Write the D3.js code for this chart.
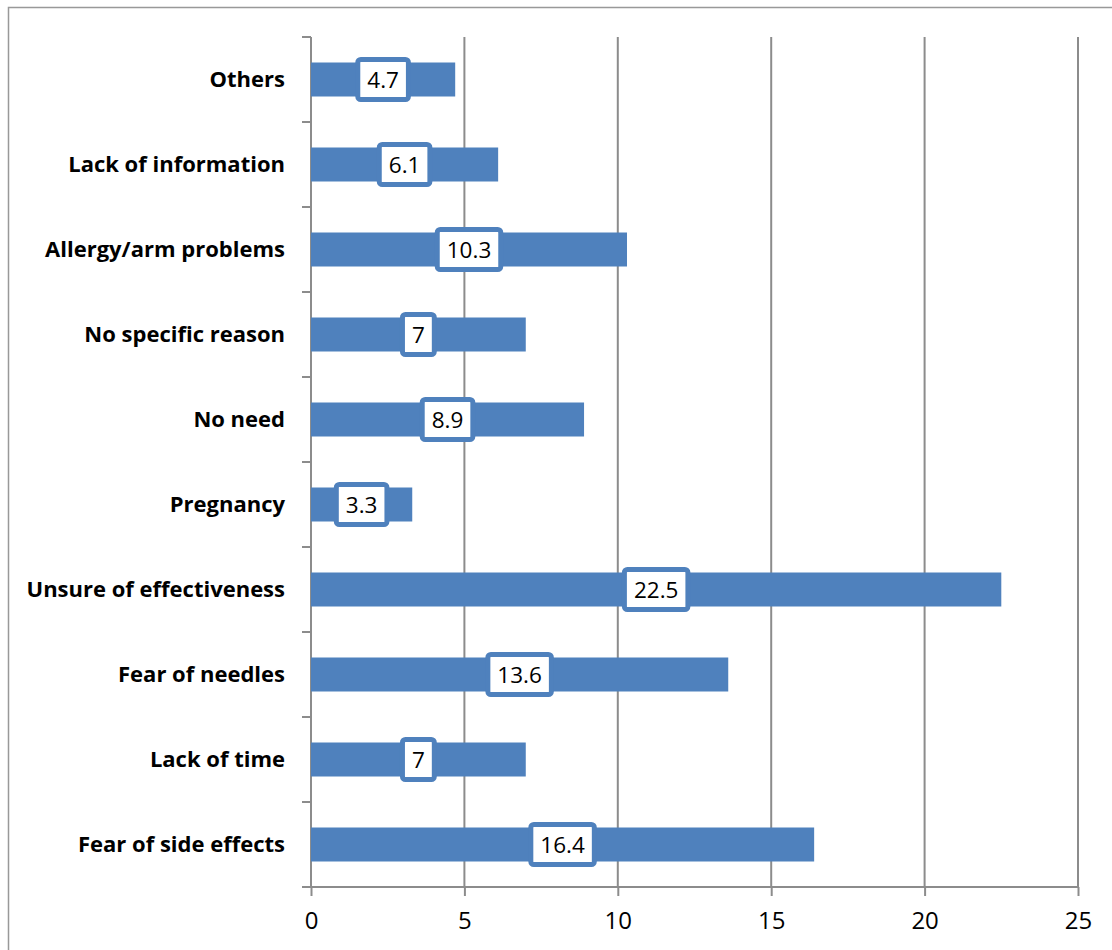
<!DOCTYPE html>
<html>
<head>
<meta charset="utf-8">
<script src="https://d3js.org/d3.v7.min.js"></script>
<style>
  body { margin: 0; background: #fff; }
  svg { display: block; }
</style>
</head>
<body>
<div id="chart"></div>
<script>
// reasons, listed from top to bottom
var categories = [
  "Others", "Lack of information", "Allergy/arm problems", "No specific reason",
  "No need", "Pregnancy", "Unsure of effectiveness", "Fear of needles",
  "Lack of time", "Fear of side effects"
];
var values = [4.7, 6.1, 10.3, 7, 8.9, 3.3, 22.5, 13.6, 7, 16.4];
var xTicks = [0, 5, 10, 15, 20, 25];

var W = 1112, H = 950;
var margin = {left: 311, right: 34, top: 37, bottom: 63};
var blue = "#4F81BD", grid = "#8c8c8c";

var svg = d3.select("#chart").append("svg").attr("width", W).attr("height", H);

// outer chart frame (runs off the right / bottom edge like the original)
svg.append("rect")
  .attr("x", 8.5).attr("y", 7.5).attr("width", W + 10).attr("height", H + 10)
  .attr("fill", "none").attr("stroke", "#999").attr("stroke-width", 1.5);

var x = d3.scaleLinear().domain([0, 25]).range([margin.left, W - margin.right]);
var y = d3.scaleBand().domain(categories).range([margin.top, H - margin.bottom]).paddingInner(0).paddingOuter(0);

var data = categories.map(function(c, i) { return {cat: c, value: values[i]}; });

// vertical gridlines
svg.append("g").selectAll("line")
  .data(xTicks.slice(1))
  .enter().append("line")
  .attr("x1", function(d) { return x(d); }).attr("x2", function(d) { return x(d); })
  .attr("y1", margin.top).attr("y2", H - margin.bottom)
  .attr("stroke", grid).attr("stroke-width", 2);

// x axis
var xAxis = svg.append("g")
  .attr("transform", "translate(0," + (H - margin.bottom) + ")")
  .call(d3.axisBottom(x).tickValues(xTicks).tickSize(9).tickPadding(16).tickFormat(d3.format("d")));
xAxis.select(".domain").attr("stroke", grid).attr("stroke-width", 2)
  .attr("d", "M" + (margin.left - 9) + ",0H" + (W - margin.right));
xAxis.selectAll(".tick line").attr("stroke", grid).attr("stroke-width", 2);
xAxis.selectAll(".tick text")
  .attr("font-family", "'Open Sans', sans-serif").attr("font-size", 24).attr("fill", "#000");

// y axis: ticks at band boundaries
var yAxisG = svg.append("g").attr("transform", "translate(" + margin.left + ",0)");
yAxisG.append("line")
  .attr("x1", 0).attr("x2", 0).attr("y1", margin.top).attr("y2", H - margin.bottom)
  .attr("stroke", grid).attr("stroke-width", 2);
yAxisG.selectAll(".ytick")
  .data(categories)
  .enter().append("line")
  .attr("class", "ytick")
  .attr("x1", -9).attr("x2", 0)
  .attr("y1", function(d) { return y(d); }).attr("y2", function(d) { return y(d); })
  .attr("stroke", grid).attr("stroke-width", 2);

// category labels
svg.append("g").selectAll("text")
  .data(categories)
  .enter().append("text")
  .attr("x", margin.left - 26)
  .attr("y", function(d) { return y(d) + y.bandwidth() / 2; })
  .attr("dy", "0.35em")
  .attr("text-anchor", "end")
  .attr("font-family", "'Open Sans', sans-serif")
  .attr("font-weight", "bold")
  .attr("font-size", 22)
  .attr("fill", "#000")
  .text(function(d) { return d; });

// bars
var barH = 34;
svg.append("g").selectAll("rect")
  .data(data)
  .enter().append("rect")
  .attr("x", x(0))
  .attr("y", function(d) { return y(d.cat) + (y.bandwidth() - barH) / 2; })
  .attr("width", function(d) { return x(d.value) - x(0); })
  .attr("height", barH)
  .attr("fill", blue);

// value labels in boxes at bar middle
var lbl = svg.append("g").selectAll("g")
  .data(data)
  .enter().append("g")
  .attr("transform", function(d) {
    return "translate(" + x(d.value / 2) + "," + (y(d.cat) + y.bandwidth() / 2) + ")";
  });
lbl.append("text")
  .attr("text-anchor", "middle")
  .attr("dy", "0.36em")
  .attr("font-family", "'Open Sans', sans-serif")
  .attr("font-size", 22.5)
  .attr("fill", "#000")
  .text(function(d) { return String(d.value); });
lbl.insert("rect", "text")
  .each(function(d) {
    var w = this.parentNode.querySelector("text").getComputedTextLength();
    d3.select(this)
      .attr("x", -w / 2 - 9.5).attr("y", -20)
      .attr("width", w + 19).attr("height", 40)
      .attr("rx", 3)
      .attr("fill", "#fff").attr("stroke", blue).attr("stroke-width", 5);
  });
</script>
</body>
</html>
